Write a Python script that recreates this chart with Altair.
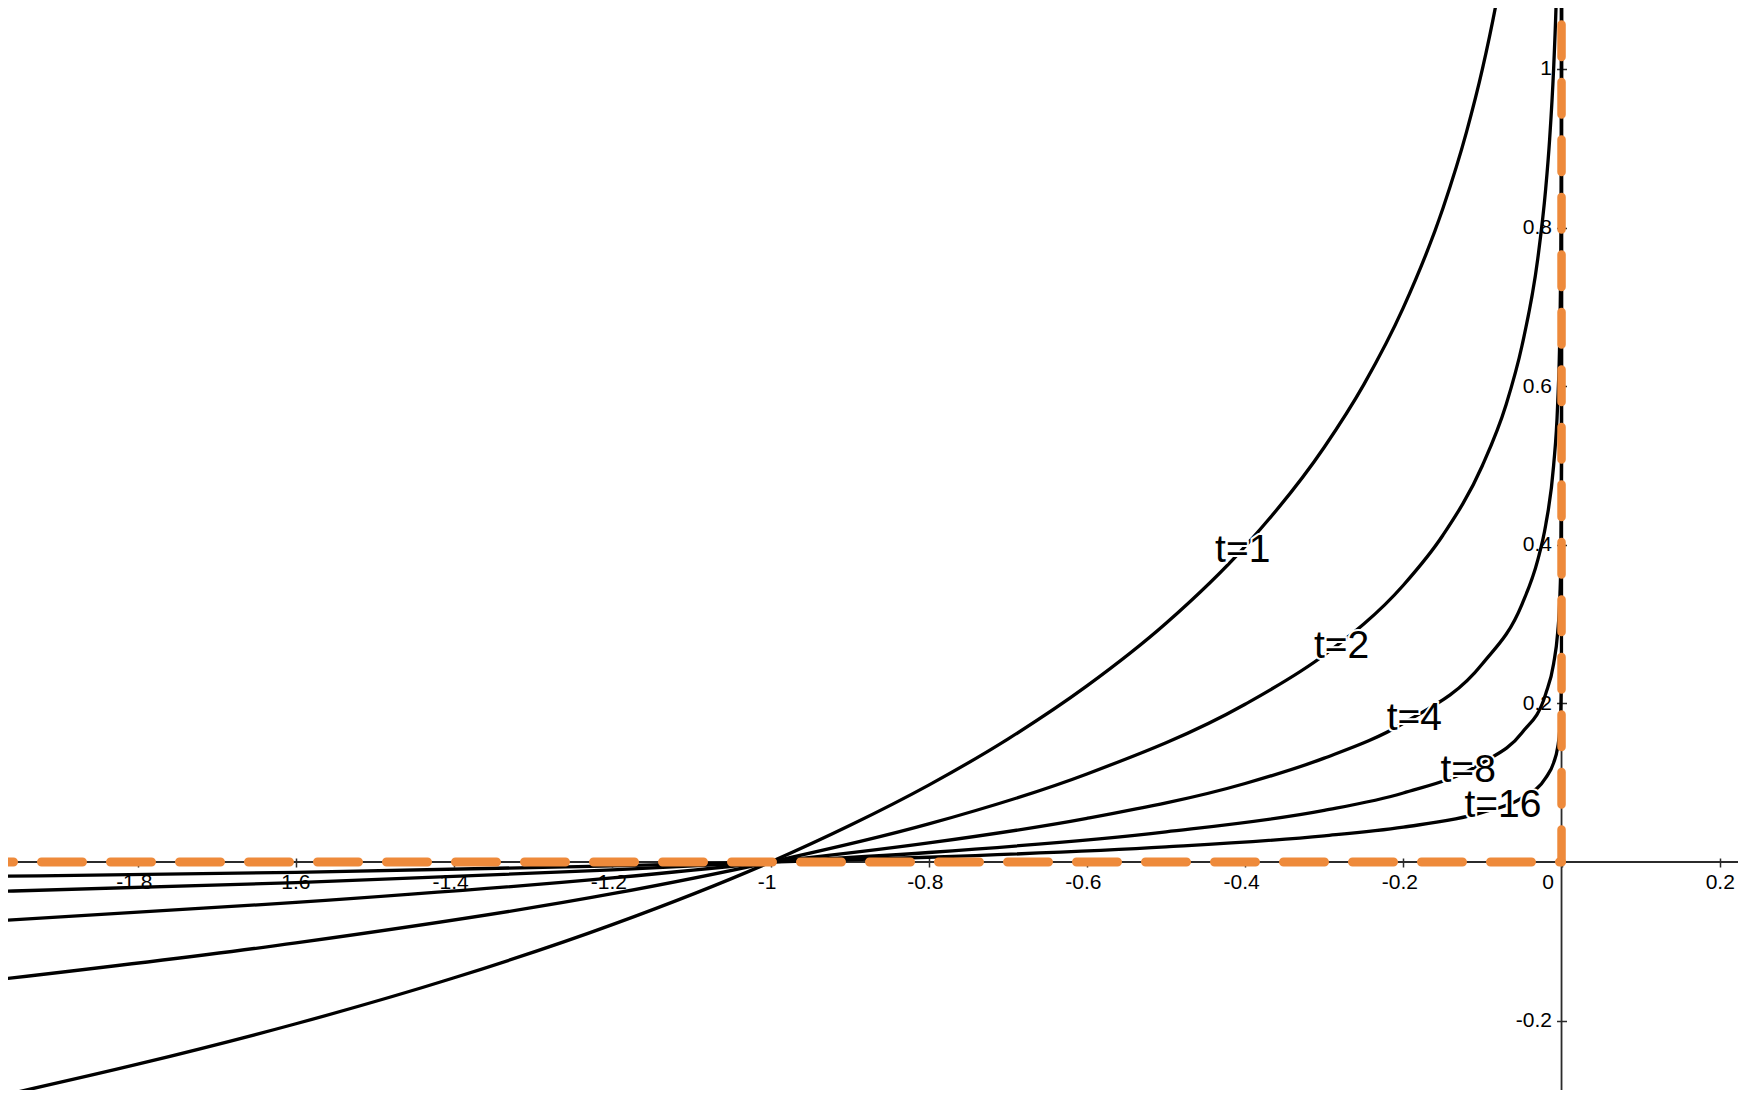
import altair as alt
import pandas as pd

# ---------------- data ----------------
t1_x = [-1.974, -1.8, -1.6, -1.4, -1.2, -1.0, -0.9, -0.8, -0.7, -0.6, -0.5, -0.4, -0.3, -0.25, -0.2, -0.15, -0.12, -0.1, -0.08, -0.06]
t1_y = [-0.295, -0.255, -0.204, -0.146, -0.079, 0.0, 0.046, 0.097, 0.155, 0.222, 0.301, 0.398, 0.523, 0.602, 0.699, 0.824, 0.921, 1.0, 1.097, 1.222]

t2_x = [-1.974, -1.6, -1.2, -1.0, -0.8, -0.6, -0.4, -0.3, -0.2, -0.15, -0.1, -0.07, -0.05, -0.03, -0.02, -0.015, -0.01, -0.007, -0.005, -0.003]
t2_y = [-0.148, -0.102, -0.040, 0.0, 0.048, 0.111, 0.199, 0.261, 0.349, 0.412, 0.5, 0.577, 0.651, 0.761, 0.849, 0.912, 1.0, 1.077, 1.151, 1.261]

t4_x = [-1.974, -1.6, -1.2, -1.0, -0.8, -0.6, -0.4, -0.3, -0.2, -0.1, -0.05, -0.03, -0.02, -0.01, -0.005, -0.002, -0.001, -0.0005, -0.0002, -0.0001, -0.00005, -0.00001]
t4_y = [-0.074, -0.051, -0.020, 0.0, 0.024, 0.055, 0.099, 0.131, 0.175, 0.25, 0.325, 0.381, 0.425, 0.5, 0.575, 0.675, 0.75, 0.825, 0.925, 1.0, 1.075, 1.25]

t8_x = [-1.974, -1.6, -1.2, -1.0, -0.8, -0.5, -0.3, -0.2, -0.1, -0.05, -0.02, -0.01, -0.005, -0.002, -0.001, -1e-4, -1e-5, -1e-6, -1e-8, -1e-10]
t8_y = [-0.037, -0.026, -0.010, 0.0, 0.012, 0.038, 0.065, 0.087, 0.125, 0.163, 0.212, 0.25, 0.288, 0.337, 0.375, 0.5, 0.625, 0.75, 1.0, 1.25]

t16_x = [-1.974, -1.6, -1.2, -1.0, -0.8, -0.5, -0.3, -0.2, -0.1, -0.05, -0.02, -0.01, -0.005, -0.002, -0.001, -1e-4, -1e-6, -1e-8, -1e-10, -1e-12]
t16_y = [-0.018, -0.013, -0.005, 0.0, 0.006, 0.019, 0.033, 0.044, 0.0625, 0.081, 0.106, 0.125, 0.144, 0.169, 0.1875, 0.25, 0.375, 0.5, 0.625, 1.25]

label_text = ["t=1", "t=2", "t=4", "t=8", "t=16"]
label_x = [-0.403, -0.278, -0.186, -0.118, -0.074]
label_y = [0.378, 0.257, 0.167, 0.101, 0.057]

x_ticks = [-1.8, -1.6, -1.4, -1.2, -1, -0.8, -0.6, -0.4, -0.2, 0, 0.2]
y_ticks = [-0.2, 0.2, 0.4, 0.6, 0.8, 1]

# ---------------- layout ----------------
X_MIN, X_MAX = -1.964, 0.2231
Y_MIN, Y_MAX = -0.2875, 1.0769
W, H = 1730, 1082
ORANGE = "#EE8A3B"
AXIS_COL = "#2b2b2b"

y0pix = H * (Y_MAX - 0) / (Y_MAX - Y_MIN)
x0pix = W * (0 - X_MIN) / (X_MAX - X_MIN)

rows = []
for name, xs_, ys_ in [("t=1", t1_x, t1_y), ("t=2", t2_x, t2_y), ("t=4", t4_x, t4_y),
                       ("t=8", t8_x, t8_y), ("t=16", t16_x, t16_y)]:
    for a, b in zip(xs_, ys_):
        rows.append({"x": a, "y": b, "t": name})
curves_df = pd.DataFrame(rows)
labels_df = pd.DataFrame({"x": label_x, "y": label_y, "text": label_text})

xs = alt.Scale(domain=[X_MIN, X_MAX], nice=False, zero=False)
ys = alt.Scale(domain=[Y_MIN, Y_MAX], nice=False, zero=False)

x_axis = alt.Axis(
    values=x_ticks, domain=False, grid=False, ticks=True, tickSize=9, tickWidth=1.5,
    tickColor=AXIS_COL, offset=-(H - y0pix) - 4, labelExpr="'' + datum.value",
    labelFont="Liberation Sans", labelFontSize=21, labelColor="#000000", labelPadding=4.5,
    labelOffset={"expr": "datum.value == 0 ? -14 : (datum.value < 0 ? -4 : 0)"},
    labelFlush=False, labelOverlap=False, labelBound=False, title=None,
)
y_axis = alt.Axis(
    values=y_ticks, domain=False, grid=False, ticks=True, tickSize=10, tickWidth=1.5,
    tickColor=AXIS_COL, offset=-(x0pix + 5), labelExpr="'' + datum.value",
    labelFont="Liberation Sans", labelFontSize=21, labelColor="#000000", labelPadding=5,
    labelFlush=False, labelOverlap=False, labelBound=False, title=None,
)

X = alt.X("x:Q", scale=xs, axis=x_axis, title=None)
Y = alt.Y("y:Q", scale=ys, axis=y_axis, title=None)

axes_df = pd.DataFrame({"x": [X_MIN, 0.0], "x2": [X_MAX, 0.0], "y": [0.0, Y_MIN], "y2": [0.0, Y_MAX]})
axis_lines = alt.Chart(axes_df).mark_rule(color=AXIS_COL, strokeWidth=1.8).encode(
    x=X, x2="x2:Q", y=Y, y2="y2:Q",
)

curves = alt.Chart(curves_df).mark_line(
    color="black", strokeWidth=3.3, interpolate="monotone", clip=True
).encode(x=X, y=Y, detail="t:N")

halo = alt.Chart(labels_df).mark_text(
    font="Liberation Sans", fontSize=39, align="center", baseline="alphabetic",
    stroke="white", strokeWidth=4, fill="white"
).encode(x=X, y=Y, text="text:N")
labels = alt.Chart(labels_df).mark_text(
    font="Liberation Sans", fontSize=39, align="center", baseline="alphabetic", color="black"
).encode(x=X, y=Y, text="text:N")

oh_df = pd.DataFrame({"x": [X_MIN], "x2": [0.0], "y": [0.0]})
orange_h = alt.Chart(oh_df).mark_rule(
    color=ORANGE, strokeWidth=9, strokeDash=[41, 28], strokeDashOffset=35.5, strokeCap="round"
).encode(x=X, x2="x2:Q", y=Y)
ov_df = pd.DataFrame({"x": [0.0], "y": [0.0], "y2": [Y_MAX]})
orange_v = alt.Chart(ov_df).mark_rule(
    color=ORANGE, strokeWidth=8.5, strokeDash=[32.5, 25], strokeCap="round"
).encode(x=X, y=Y, y2="y2:Q")

chart = alt.layer(axis_lines, curves, halo, labels, orange_h, orange_v).properties(
    width=W, height=H, padding=0, autosize="none"
).configure_view(stroke=None)

chart.save("out.html", embed_options={"renderer": "svg", "actions": False})
